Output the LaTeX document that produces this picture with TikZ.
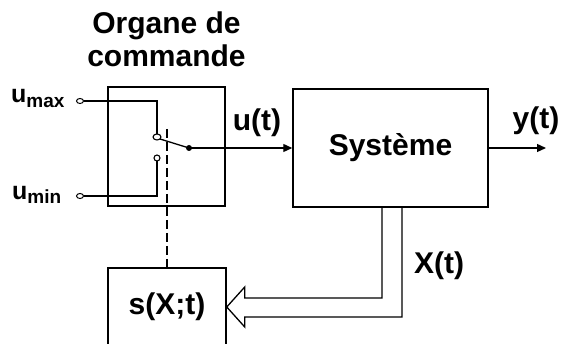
\documentclass[tikz,border=0pt]{standalone}
\usepackage{fontspec}
\setmainfont{Liberation Sans}
\usetikzlibrary{arrows.meta,positioning,calc}

\begin{document}
\begin{tikzpicture}[x=1pt,y=-1pt,
    blk/.style={draw, line width=1.5pt, inner sep=0pt},
    lbl/.style={font=\fontsize{30}{33}\selectfont\bfseries, inner sep=0pt},
    sublbl/.style={font=\fontsize{25}{25}\selectfont\bfseries, inner sep=0pt},
    wire/.style={line width=1.3pt},
    sig/.style={wire, -{Triangle[length=9pt,width=8pt]}},
    ctl/.style={line width=1.2pt, dash pattern=on 9pt off 4pt}]

  \useasboundingbox (0,0) rectangle (563,344);

  % Blocks
  \node[blk, minimum width=117pt, minimum height=119pt] (org) at (166.5,146.5) {};
  \node[blk, lbl, minimum width=195pt, minimum height=118pt] (sys) at (390.5,148) {Système};
  \node[blk, lbl, minimum width=118pt, minimum height=78pt] (sbox) at (167,307) {s(X;t)};

  % Title of the switching block
  \node[lbl, align=center, above=19pt of org] (orgtitle) {Organe de\\commande};

  % Switch terminals and contacts
  \coordinate (umax) at (80,101);
  \coordinate (umin) at (80,196);
  \coordinate (cA) at (157,137);
  \coordinate (cB) at (157,158);
  \coordinate (pivot) at (189,148);
  \coordinate (lever) at (167,129);
  \coordinate (yout) at (546,148);

  \node[sublbl, anchor=base west] (umaxlbl) at (11,103)
    {u\raisebox{-5pt}{\fontsize{19}{19}\selectfont max}};
  \node[sublbl, anchor=base west] (uminlbl) at (12,200)
    {u\raisebox{-4pt}{\fontsize{19}{19}\selectfont min}};

  \draw[line width=1pt] (umax) ellipse (3.5 and 2.5);
  \draw[line width=1pt] (umin) ellipse (3.5 and 2.5);
  \draw[line width=1.1pt] (cA) ellipse (4 and 3);
  \draw[line width=1.1pt] (cB) ellipse (3 and 3);

  \draw[wire] ([xshift=3.5pt]umax) -| ([yshift=3pt]cA);
  \draw[wire] ([yshift=-3pt]cB) |- ([xshift=3.5pt]umin);
  \draw[wire] ([xshift=3pt,yshift=-2pt]cA) -- (pivot);
  \fill (pivot) circle (3);

  % Control link
  \draw[ctl] (lever) -- (sbox.north);

  % Signals
  \draw[sig] (pivot) -- (sys.west);
  \draw[sig] (sys.east) -- (yout);
  \node[lbl, anchor=base] (ulbl) at (257,131) {u(t)};
  \node[lbl, anchor=base] (ylbl) at (536,129) {y(t)};

  % State feedback (hollow arrow)
  \coordinate (fbA) at ([xshift=-8.5pt]sys.south);
  \coordinate (fbB) at ([xshift=11.5pt]sys.south);
  \draw[wire] (fbA) |- ($(sbox.east)+(18,-9)$) -- ++(0,-11) -- (sbox.east)
    -- ++(18,20) -- ++(0,-10) -| (fbB);
  \node[lbl, anchor=base] (xlbl) at (439,274) {X(t)};

\end{tikzpicture}
\end{document}
